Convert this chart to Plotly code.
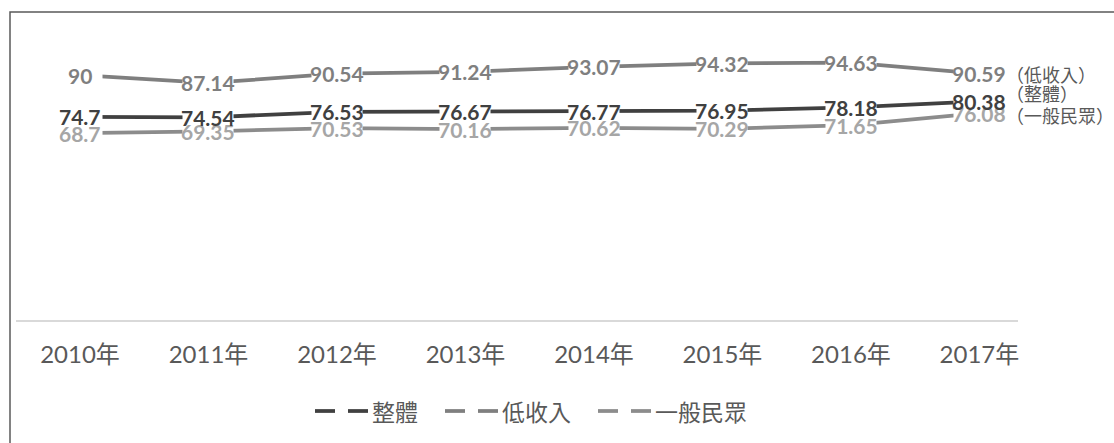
import plotly.graph_objects as go

years = ["2010年", "2011年", "2012年", "2013年", "2014年", "2015年", "2016年", "2017年"]
overall = [74.7, 74.54, 76.53, 76.67, 76.77, 76.95, 78.18, 80.38]
low_income = [90, 87.14, 90.54, 91.24, 93.07, 94.32, 94.63, 90.59]
general = [68.7, 69.35, 70.53, 70.16, 70.62, 70.29, 71.65, 76.08]

series_names = ["整體", "低收入", "一般民眾"]
side_labels = ["（低收入）", "（整體）", "（一般民眾）"]

LINE_COL = {"整體": "#404040", "低收入": "#7f7f7f", "一般民眾": "#8c8c8c"}
TEXT_COL = {"整體": "#404040", "低收入": "#7f7f7f", "一般民眾": "#a6a6a6"}
DATA = {"整體": overall, "低收入": low_income, "一般民眾": general}

W, H = 1114, 443
ML, MR, MT, MB = 16, 96, 48, 123
PW, PH = W - ML - MR, H - MT - MB


def px_x(p):
    return (p - ML) / PW


def px_y(p):
    return (H - MB - p) / PH


CJK = "Noto Sans CJK TC"
NUM = "Lato, Noto Sans CJK TC"

fig = go.Figure()
annotations = []

# draw order: low income, general, overall (overall labels on top)
for name in ["低收入", "一般民眾", "整體"]:
    vals = DATA[name]
    fig.add_trace(go.Scatter(
        x=years, y=vals, mode="lines", name=name, showlegend=False,
        line=dict(color=LINE_COL[name], width=3.75), hoverinfo="skip",
    ))

for name in ["低收入", "一般民眾", "整體"]:
    vals = DATA[name]
    for yr, v in zip(years, vals):
        txt = f"{v:g}"
        annotations.append(dict(
            x=yr, y=v, xref="x", yref="y", text="&nbsp;", showarrow=False,
            width=max(44, 10 * len(txt)), height=12, bgcolor="white",
            borderpad=0, font=dict(size=6), xanchor="center", yanchor="middle",
        ))
    for yr, v in zip(years, vals):
        annotations.append(dict(
            x=yr, y=v, xref="x", yref="y", text=f"<b>{v:g}</b>", showarrow=False,
            font=dict(family=NUM, size=21, color=TEXT_COL[name]),
            xanchor="center", yanchor="middle",
        ))

# side labels
side_y = [74, 93, 115]
for lbl, py in zip(side_labels, side_y):
    annotations.append(dict(
        x=px_x(1004), y=px_y(py), xref="paper", yref="paper", text=lbl,
        showarrow=False, xanchor="left", yanchor="middle",
        font=dict(family=CJK, size=18, color="#595959"),
    ))

shapes = []
# legend (manual, with long-dash swatches)
leg_start = [315, 445, 598]
leg_y = px_y(411)
for name, sx in zip(series_names, leg_start):
    for d in range(2):
        x0 = sx + d * 33
        shapes.append(dict(
            type="line", xref="paper", yref="paper",
            x0=px_x(x0), x1=px_x(x0 + 20), y0=leg_y, y1=leg_y,
            line=dict(color=LINE_COL[name], width=3.75),
        ))
    annotations.append(dict(
        x=px_x(sx + 55), y=leg_y, xref="paper", yref="paper", text=name,
        showarrow=False, xanchor="left", yanchor="middle",
        font=dict(family=CJK, size=23, color="#595959"),
    ))

# outer chart frame
shapes.append(dict(
    type="rect", xref="paper", yref="paper",
    x0=px_x(10), x1=2, y0=-2, y1=px_y(12),
    line=dict(color="#595959", width=1.5), fillcolor="rgba(0,0,0,0)", layer="above",
))

fig.update_layout(
    width=W, height=H,
    margin=dict(l=ML, r=MR, t=MT, b=MB, pad=0),
    paper_bgcolor="white", plot_bgcolor="white",
    showlegend=False,
    annotations=annotations, shapes=shapes,
    xaxis=dict(
        type="category", categoryorder="array", categoryarray=years,
        range=[-0.498, 7.30], showgrid=False, zeroline=False,
        showline=True, linecolor="#d9d9d9", linewidth=1.5,
        ticks="", tickfont=dict(family=NUM, size=24, color="#595959"),
        ticklabelstandoff=12,
    ),
    yaxis=dict(
        range=[0, 100], visible=False, showgrid=False, zeroline=False,
    ),
)

fig.write_html("out.html")
